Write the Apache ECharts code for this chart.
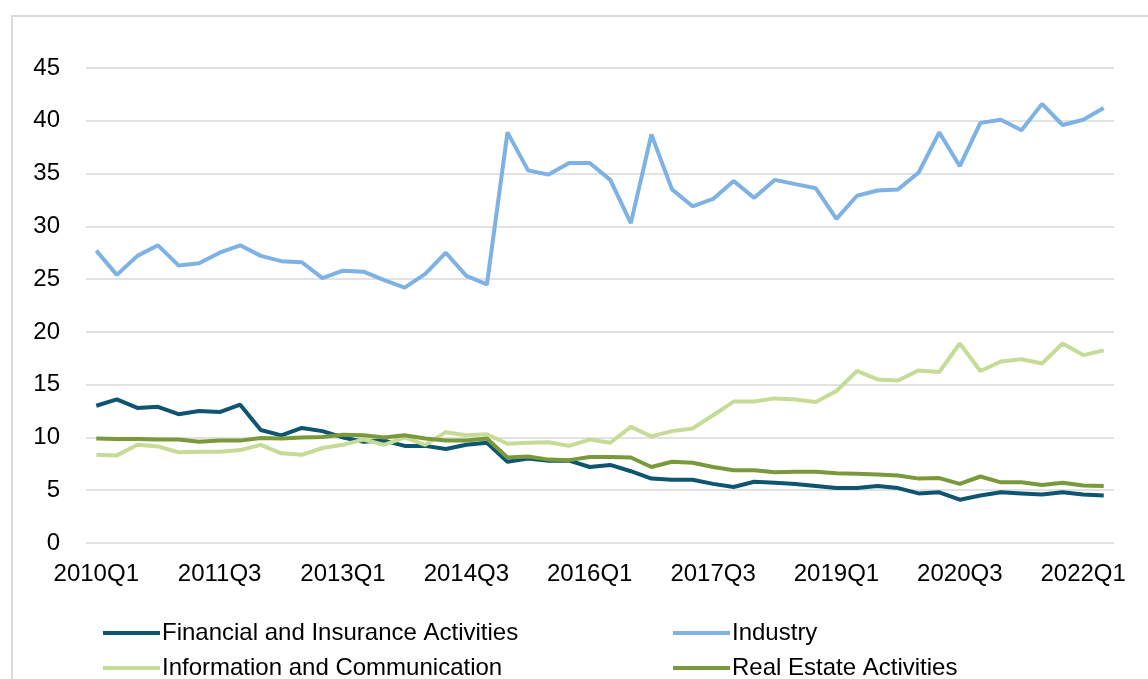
<!DOCTYPE html>
<html>
<head>
<meta charset="utf-8">
<script src="https://cdn.jsdelivr.net/npm/echarts@6/dist/echarts.min.js"></script>
<style>
    html, body { margin: 0; padding: 0; background: #fff; overflow: hidden; }
    #frame { position: absolute; left: 11px; top: 15px; width: 1400px; height: 900px; border: 2px solid #d9d9d9; }
    #chart { position: absolute; left: 0; top: 0; width: 1148px; height: 679px; }
</style>
</head>
<body>
<div id="frame"></div>
<div id="chart"></div>
<script>
const quarters = [
    '2010Q1', '2010Q2', '2010Q3', '2010Q4', '2011Q1', '2011Q2', '2011Q3', '2011Q4',
    '2012Q1', '2012Q2', '2012Q3', '2012Q4', '2013Q1', '2013Q2', '2013Q3', '2013Q4',
    '2014Q1', '2014Q2', '2014Q3', '2014Q4', '2015Q1', '2015Q2', '2015Q3', '2015Q4',
    '2016Q1', '2016Q2', '2016Q3', '2016Q4', '2017Q1', '2017Q2', '2017Q3', '2017Q4',
    '2018Q1', '2018Q2', '2018Q3', '2018Q4', '2019Q1', '2019Q2', '2019Q3', '2019Q4',
    '2020Q1', '2020Q2', '2020Q3', '2020Q4', '2021Q1', '2021Q2', '2021Q3', '2021Q4',
    '2022Q1', '2022Q2',
];

const finance = [
    13.0, 13.6, 12.8, 12.9, 12.2, 12.5, 12.4, 13.1, 10.7, 10.2,
    10.9, 10.6, 10.0, 9.6, 9.7, 9.2, 9.2, 8.9, 9.3, 9.5,
    7.7, 8.0, 7.8, 7.8, 7.2, 7.4, 6.8, 6.1, 6.0, 6.0,
    5.6, 5.3, 5.8, 5.7, 5.6, 5.4, 5.2, 5.2, 5.4, 5.2,
    4.7, 4.8, 4.1, 4.5, 4.8, 4.7, 4.6, 4.8, 4.6, 4.5,
];
const industry = [
    27.7, 25.4, 27.2, 28.2, 26.3, 26.5, 27.5, 28.2, 27.2, 26.7,
    26.6, 25.1, 25.8, 25.7, 24.9, 24.2, 25.5, 27.5, 25.3, 24.5,
    38.9, 35.3, 34.9, 36.0, 36.0, 34.4, 30.3, 38.7, 33.5, 31.9,
    32.6, 34.3, 32.7, 34.4, 34.0, 33.6, 30.7, 32.9, 33.4, 33.5,
    35.1, 38.9, 35.7, 39.8, 40.1, 39.1, 41.6, 39.6, 40.1, 41.2,
];
const infoComm = [
    8.35, 8.3, 9.3, 9.15, 8.6, 8.65, 8.65, 8.8, 9.3, 8.5,
    8.35, 9.0, 9.3, 9.8, 9.3, 10.0, 9.3, 10.5, 10.2, 10.3,
    9.4, 9.5, 9.55, 9.2, 9.8, 9.5, 11.0, 10.1, 10.6, 10.85,
    12.1, 13.4, 13.4, 13.7, 13.6, 13.35, 14.4, 16.3, 15.5, 15.4,
    16.35, 16.2, 18.9, 16.3, 17.2, 17.4, 17.0, 18.9, 17.8, 18.25,
];
const realEstate = [
    9.9, 9.85, 9.85, 9.8, 9.8, 9.6, 9.7, 9.7, 9.95, 9.9,
    10.0, 10.05, 10.25, 10.2, 10.0, 10.2, 9.9, 9.7, 9.7, 9.9,
    8.1, 8.2, 7.9, 7.85, 8.15, 8.15, 8.1, 7.2, 7.7, 7.6,
    7.2, 6.9, 6.9, 6.7, 6.75, 6.75, 6.6, 6.55, 6.5, 6.4,
    6.1, 6.15, 5.6, 6.3, 5.75, 5.75, 5.5, 5.7, 5.45, 5.4,
];

const seriesNames = [
    'Financial and Insurance Activities',
    'Industry',
    'Information and Communication',
    'Real Estate Activities',
];
const colors = ['#0d5571', '#7eb1e4', '#c6dc96', '#7a993a'];

const font = '"Liberation Sans", Arial, sans-serif';

function legendAt(name, left, top) {
    return {
        data: [name],
        left: left,
        top: top,
        padding: 0,
        icon: 'rect',
        itemWidth: 57,
        itemHeight: 4,
        itemGap: 0,
        textStyle: { fontFamily: font, fontSize: 24, color: '#000', padding: [0, 0, 0, -3] },
    };
}

const myChart = echarts.init(document.getElementById('chart'), null, { renderer: 'canvas' });
const option = {
    animation: false,
    color: colors,
    grid: {
        left: 86,
        right: 34,
        top: 68,
        bottom: 136,
    },
    legend: [
        legendAt(seriesNames[0], 103, 621),
        legendAt(seriesNames[1], 673, 621),
        legendAt(seriesNames[2], 103, 656),
        legendAt(seriesNames[3], 673, 656),
    ],
    xAxis: {
        type: 'category',
        boundaryGap: true,
        data: quarters,
        axisLine: { show: false },
        axisTick: { show: false },
        axisLabel: {
            interval: 5,
            margin: 19,
            fontFamily: font,
            fontSize: 24,
            color: '#000',
        },
    },
    yAxis: {
        type: 'value',
        min: 0,
        max: 45,
        interval: 5,
        axisLine: { show: false },
        axisTick: { show: false },
        axisLabel: {
            margin: 26,
            fontFamily: font,
            fontSize: 24,
            color: '#000',
        },
        splitLine: {
            lineStyle: { color: '#d9d9d9', width: 1.5 },
        },
    },
    series: [
        { name: seriesNames[0], type: 'line', data: finance },
        { name: seriesNames[1], type: 'line', data: industry },
        { name: seriesNames[2], type: 'line', data: infoComm },
        { name: seriesNames[3], type: 'line', data: realEstate },
    ].map(function (s, i) {
        s.symbol = 'none';
        s.lineStyle = { width: 4, color: colors[i] };
        return s;
    }),
};
myChart.setOption(option);
window.addEventListener('resize', myChart.resize);
</script>
</body>
</html>
